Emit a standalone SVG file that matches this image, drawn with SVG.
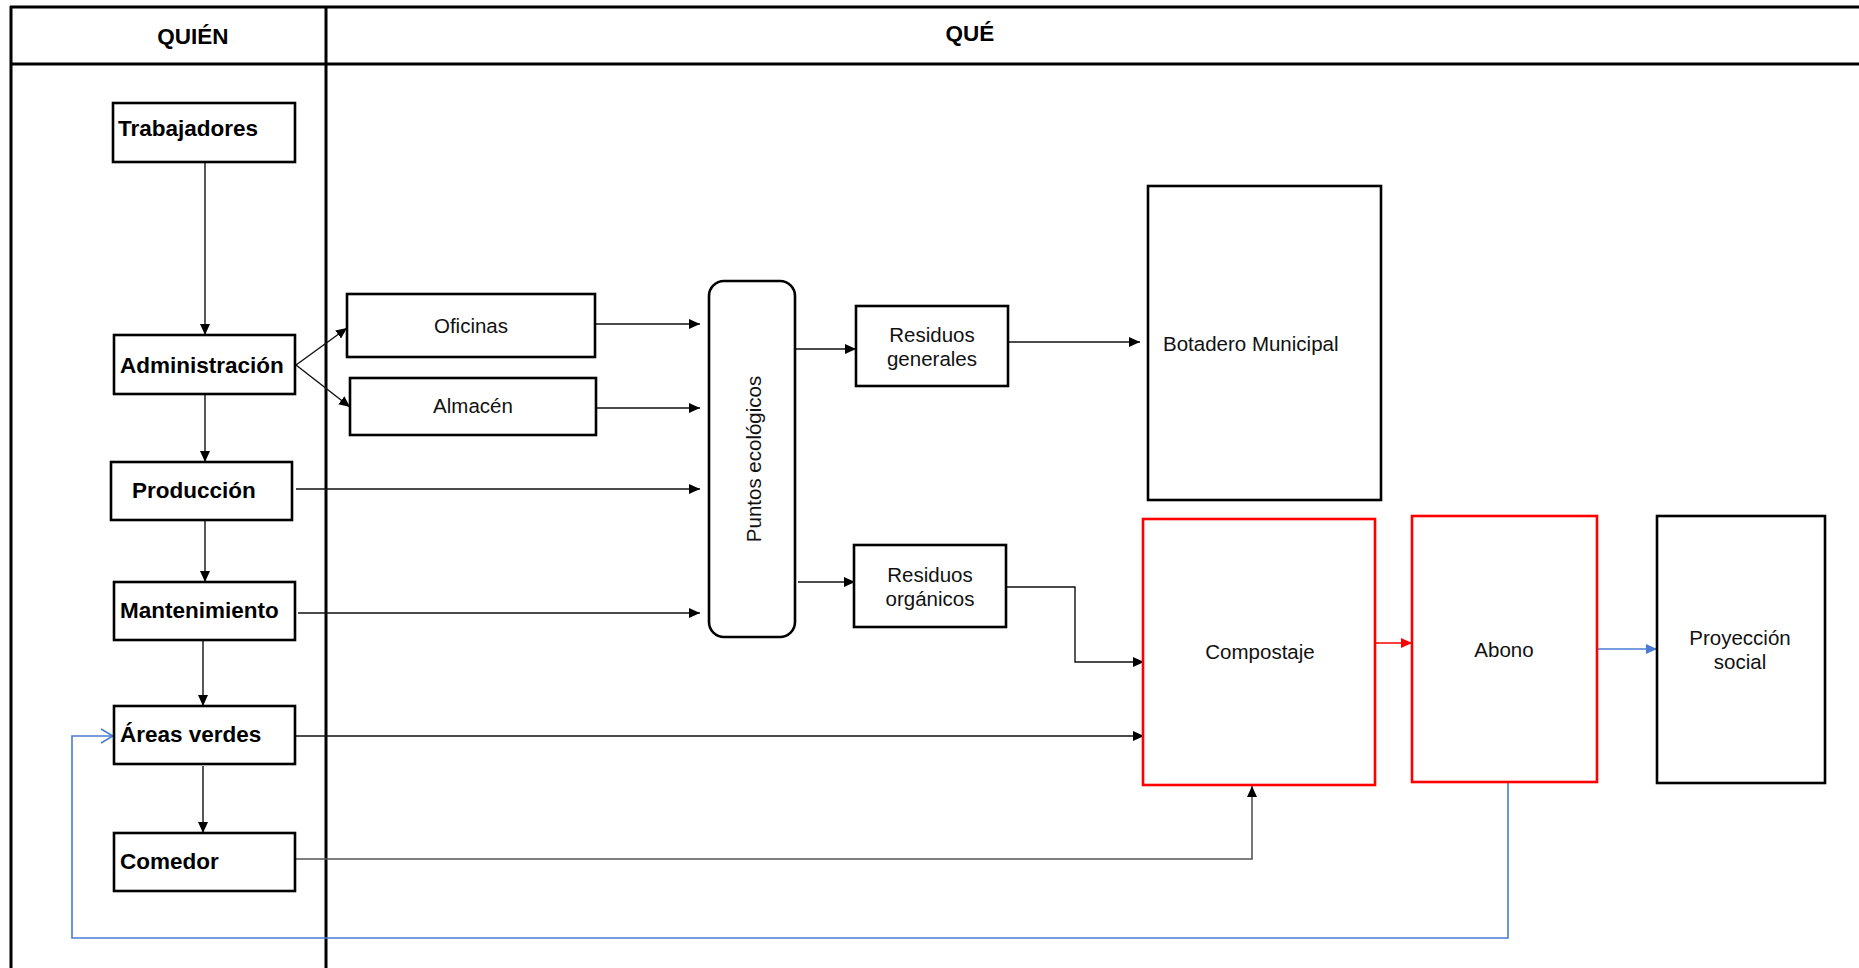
<svg xmlns="http://www.w3.org/2000/svg" width="1859" height="968" viewBox="0 0 1859 968">
<defs>
<style>
.frame{stroke:#000;fill:none;stroke-width:3}
.box{fill:#fff;stroke:#000;stroke-width:2.6}
.red{fill:#fff;stroke:#ff0000;stroke-width:2.6}
.b{font-family:"Liberation Sans",Arial,sans-serif;font-weight:bold;font-size:22.5px;fill:#000}
.t{font-family:"Liberation Sans",Arial,sans-serif;font-size:20.5px;fill:#111}
.m{text-anchor:middle}
.c{fill:none;stroke:#111;stroke-width:1.4}
.cg{fill:none;stroke:#555;stroke-width:1.6}
.cr{fill:none;stroke:#ff0000;stroke-width:1.6}
.cb{fill:none;stroke:#4a7bd4;stroke-width:1.6}
</style>
<marker id="ah" markerUnits="userSpaceOnUse" markerWidth="12" markerHeight="12" viewBox="0 0 12 12" refX="11" refY="6" orient="auto"><path d="M0,1 L11,6 L0,11 Z" fill="#000"/></marker>
<marker id="ahr" markerUnits="userSpaceOnUse" markerWidth="12" markerHeight="12" viewBox="0 0 12 12" refX="11" refY="6" orient="auto"><path d="M0,1 L11,6 L0,11 Z" fill="#ff0000"/></marker>
<marker id="ahb" markerUnits="userSpaceOnUse" markerWidth="12" markerHeight="12" viewBox="0 0 12 12" refX="11" refY="6" orient="auto"><path d="M0,1 L11,6 L0,11 Z" fill="#4a7bd4"/></marker>
<marker id="aho" markerUnits="userSpaceOnUse" markerWidth="14" markerHeight="16" viewBox="0 0 14 16" refX="13" refY="8" orient="auto"><path d="M1,1 L13,8 L1,15" fill="none" stroke="#4a7bd4" stroke-width="1.6"/></marker>
</defs>
<rect width="1859" height="968" fill="#fff"/>
<g id="frame">
<line class="frame" x1="10" y1="7" x2="1859" y2="7"/>
<line class="frame" x1="10" y1="64" x2="1859" y2="64"/>
<line class="frame" x1="11" y1="6" x2="11" y2="968"/>
<line class="frame" x1="326" y1="6" x2="326" y2="968" stroke-width="4"/>
<text class="b m" x="193" y="44">QUIÉN</text>
<text class="b m" x="970" y="41">QUÉ</text>
</g>
<g id="connectors">
<line class="c" x1="205" y1="162" x2="205" y2="335" marker-end="url(#ah)"/>
<line class="c" x1="296" y1="365" x2="347" y2="328" marker-end="url(#ah)"/>
<line class="c" x1="296" y1="365" x2="350" y2="407" marker-end="url(#ah)"/>
<line class="c" x1="205" y1="394" x2="205" y2="462" marker-end="url(#ah)"/>
<line class="c" x1="205" y1="520" x2="205" y2="582" marker-end="url(#ah)"/>
<line class="c" x1="203" y1="640" x2="203" y2="706" marker-end="url(#ah)"/>
<line class="c" x1="203" y1="766" x2="203" y2="833" marker-end="url(#ah)"/>
<line class="c" x1="595" y1="324" x2="700" y2="324" marker-end="url(#ah)"/>
<line class="c" x1="596" y1="408" x2="700" y2="408" marker-end="url(#ah)"/>
<line class="c" x1="296" y1="489" x2="700" y2="489" marker-end="url(#ah)"/>
<line class="c" x1="298" y1="613" x2="700" y2="613" marker-end="url(#ah)"/>
<line class="c" x1="296" y1="736" x2="1144" y2="736" marker-end="url(#ah)"/>
<polyline class="cg" points="296,859 1252,859 1252,786" marker-end="url(#ah)"/>
<line class="c" x1="795" y1="349" x2="856" y2="349" marker-end="url(#ah)"/>
<line class="c" x1="798" y1="582" x2="855" y2="582" marker-end="url(#ah)"/>
<line class="c" x1="1008" y1="342" x2="1140" y2="342" marker-end="url(#ah)"/>
<polyline class="c" points="1006,587 1075,587 1075,662 1144,662" marker-end="url(#ah)"/>
<line class="cr" x1="1375" y1="643" x2="1412" y2="643" marker-end="url(#ahr)"/>
<line class="cb" x1="1597" y1="649" x2="1657" y2="649" marker-end="url(#ahb)"/>
<polyline class="cb" points="1508,782 1508,938 72,938 72,736 113,736" marker-end="url(#aho)"/>
</g>
<g id="trabajadores"><rect class="box" x="113" y="103" width="182" height="59"/><text class="b" x="118" y="136">Trabajadores</text></g>
<g id="administracion"><rect class="box" x="114" y="335" width="181" height="59"/><text class="b" x="120" y="373">Administración</text></g>
<g id="produccion"><rect class="box" x="111" y="462" width="181" height="58"/><text class="b" x="132" y="498">Producción</text></g>
<g id="mantenimiento"><rect class="box" x="114" y="582" width="181" height="58"/><text class="b" x="120" y="618">Mantenimiento</text></g>
<g id="areas-verdes"><rect class="box" x="114" y="706" width="181" height="58"/><text class="b" x="120" y="742">Áreas verdes</text></g>
<g id="comedor"><rect class="box" x="114" y="833" width="181" height="58"/><text class="b" x="120" y="869">Comedor</text></g>
<g id="oficinas"><rect class="box" x="347" y="294" width="248" height="63"/><text class="t m" x="471" y="333">Oficinas</text></g>
<g id="almacen"><rect class="box" x="350" y="378" width="246" height="57"/><text class="t m" x="473" y="413">Almacén</text></g>
<g id="puntos-ecologicos"><rect class="box" x="709" y="281" width="86" height="356" rx="15"/><text class="t m" x="0" y="0" transform="translate(761,459) rotate(-90)">Puntos ecológicos</text></g>
<g id="residuos-generales"><rect class="box" x="856" y="306" width="152" height="80"/><text class="t m" x="932" y="342">Residuos</text><text class="t m" x="932" y="366">generales</text></g>
<g id="residuos-organicos"><rect class="box" x="854" y="545" width="152" height="82"/><text class="t m" x="930" y="582">Residuos</text><text class="t m" x="930" y="606">orgánicos</text></g>
<g id="botadero"><rect class="box" x="1148" y="186" width="233" height="314"/><text class="t" x="1163" y="351">Botadero Municipal</text></g>
<g id="compostaje"><rect class="red" x="1143" y="519" width="232" height="266"/><text class="t m" x="1260" y="659">Compostaje</text></g>
<g id="abono"><rect class="red" x="1412" y="516" width="185" height="266"/><text class="t m" x="1504" y="657">Abono</text></g>
<g id="proyeccion-social"><rect class="box" x="1657" y="516" width="168" height="267"/><text class="t m" x="1740" y="645">Proyección</text><text class="t m" x="1740" y="669">social</text></g>
</svg>
